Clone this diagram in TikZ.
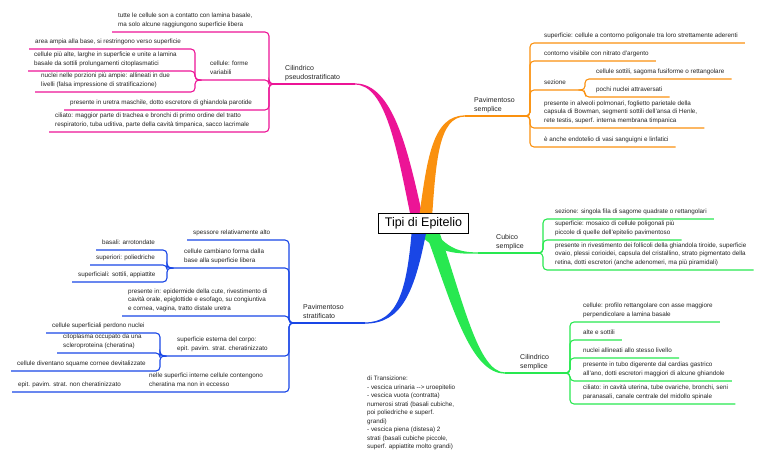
\documentclass[tikz,border=0pt]{standalone}
\usepackage{fontspec}
\setmainfont{Liberation Sans}
\usetikzlibrary{backgrounds}
\definecolor{mpink}{RGB}{236,20,150}
\definecolor{morange}{RGB}{250,145,15}
\definecolor{mgreen}{RGB}{40,232,80}
\definecolor{mblue}{RGB}{25,70,230}
\definecolor{mtext}{RGB}{35,35,35}
\tikzstyle{root} = [draw=black, line width=0.9pt, fill=white, inner xsep=6pt, minimum height=20pt, font=\fontsize{12.5}{14}\selectfont]
\tikzstyle{branch} = [inner sep=0pt, anchor=south west, align=left, text=mtext, font=\fontsize{7}{9}\selectfont, execute at end node=\strut]
\tikzstyle{leaf} = [inner xsep=0pt, inner ysep=3pt, anchor=south west, align=left, text=mtext, font=\fontsize{6.3}{8.5}\selectfont, execute at end node=\strut]
\tikzstyle{link} = [line width=1.1pt, rounded corners=4pt]

\begin{document}
\begin{tikzpicture}[x=1pt, y=-1pt]
\useasboundingbox (0,0) rectangle (768,464);

\node[root] (root) at (423.5,223) {Tipi di Epitelio};

\coordinate (jps) at (272,84);
\coordinate (jpsem) at (527,116);
\coordinate (jcub) at (540,253);
\coordinate (jcil) at (567,373);
\coordinate (jpst) at (292,323);
\coordinate (eps) at (355,84);
\coordinate (epsem) at (465,116);
\coordinate (ecub) at (478,253);
\coordinate (ecil) at (505,373);
\coordinate (epst) at (365,323);

% stems
\begin{scope}[on background layer]
\fill[mpink] (411,218) .. controls (397,150) and (386,84.6) .. (355,84.6) -- (355,83.4) .. controls (393,83.4) and (408,150) .. (423,218) -- cycle;
\fill[morange] (419,218) .. controls (427,160) and (432,115.4) .. (465,115.4) -- (465,116.6) .. controls (439,116.6) and (436,160) .. (432,218) -- cycle;
\fill[mgreen] (429,226) .. controls (446,246) and (455,252.4) .. (478,252.4) -- (478,253.6) .. controls (450,254.5) and (436,250) .. (421,236) -- cycle;
\fill[mgreen] (424,228) .. controls (452,305) and (470,373.6) .. (505,373.6) -- (505,372.4) .. controls (478,372.4) and (463,300) .. (438,228) -- cycle;
\fill[mblue] (427,228) .. controls (415,292) and (402,323.6) .. (365,323.6) -- (365,322.4) .. controls (398,322.4) and (407,290) .. (412,228) -- cycle;
\end{scope}
\draw[link, mpink] (eps) -- (jps);
\draw[link, morange] (epsem) -- (jpsem);
\draw[link, mgreen] (ecub) -- (jcub);
\draw[link, mgreen] (ecil) -- (jcil);
\draw[link, mblue] (epst) -- (jpst);

\node[branch] (ps) at (285,82) {Cilindrico\\pseudostratificato};
\node[branch] (psem) at (474,114) {Pavimentoso\\semplice};
\node[branch] (cub) at (496,251) {Cubico\\semplice};
\node[branch] (cil) at (520,371) {Cilindrico\\semplice};
\node[branch] (pst) at (303,321) {Pavimentoso\\stratificato};

% Cilindrico pseudostratificato
\node[leaf] (p1) at (118,32) {tutte le cellule son a contatto con lamina basale,\\ma solo alcune raggiungono superficie libera};
\node[leaf] (p2) at (210,80) {cellule: forme\\variabili};
\node[leaf] (p2a) at (35,49) {area ampia alla base, si restringono verso superficie};
\node[leaf] (p2b) at (34,71) {cellule più alte, larghe in superficie e unite a lamina\\basale da sottili prolungamenti citoplasmatici};
\node[leaf] (p2c) at (41,92) {nuclei nelle porzioni più ampie: allineati in due\\livelli (falsa impressione di stratificazione)};
\node[leaf] (p3) at (70,110) {presente in uretra maschile, dotto escretore di ghiandola parotide};
\node[leaf] (p4) at (55,132) {ciliato: maggior parte di trachea e bronchi di primo ordine del tratto\\respiratorio, tuba uditiva, parte della cavità timpanica, sacco lacrimale};
\coordinate (jp2) at (198,80);
\begin{scope}[link, mpink]
\draw (jps) -- ++(-3,0) |- ([xshift=-6pt]p1.south west);
\draw (jps) -- ++(-3,0) |- (jp2);
\draw (jps) -- ++(-3,0) |- ([xshift=-6pt]p3.south west);
\draw (jps) -- ++(-3,0) |- ([xshift=-6pt]p4.south west);
\draw (jp2) -- ++(-3,0) |- ([xshift=-6pt]p2a.south west);
\draw (jp2) -- ++(-3,0) |- ([xshift=-6pt]p2b.south west);
\draw (jp2) -- ++(-3,0) |- ([xshift=-6pt]p2c.south west);
\end{scope}

% Pavimentoso semplice
\node[leaf] (o1) at (544,43) {superficie: cellule a contorno poligonale tra loro strettamente aderenti};
\node[leaf] (o2) at (544,61) {contorno visibile con nitrato d'argento};
\node[leaf] (o3) at (544,90) {sezione};
\node[leaf] (o3a) at (596,79) {cellule sottili, sagoma fusiforme o rettangolare};
\node[leaf] (o3b) at (596,97) {pochi nuclei attraversati};
\node[leaf] (o4) at (544,128) {presente in alveoli polmonari, foglietto parietale della\\capsula di Bowman, segmenti sottili dell'ansa di Henle,\\rete testis, superf. interna membrana timpanica};
\node[leaf] (o5) at (544,147) {è anche endotelio di vasi sanguigni e linfatici};
\coordinate (jo3) at (582,90);
\begin{scope}[link, morange]
\draw (jpsem) -- ++(3,0) |- ([xshift=7pt]o1.south east);
\draw (jpsem) -- ++(3,0) |- ([xshift=7pt]o2.south east);
\draw (jpsem) -- ++(3,0) |- (jo3);
\draw (jpsem) -- ++(3,0) |- ([xshift=7pt]o4.south east);
\draw (jpsem) -- ++(3,0) |- ([xshift=7pt]o5.south east);
\draw (jo3) -- ++(3,0) |- ([xshift=7pt]o3a.south east);
\draw (jo3) -- ++(3,0) |- ([xshift=7pt]o3b.south east);
\end{scope}

% Cubico semplice
\node[leaf] (c1) at (555,219) {sezione: singola fila di sagome quadrate o rettangolari};
\node[leaf] (c2) at (555,240) {superficie: mosaico di cellule poligonali più\\piccole di quelle dell'epitelio pavimentoso};
\node[leaf] (c3) at (555,270) {presente in rivestimento dei follicoli della ghiandola tiroide, superficie\\ovaio, plessi corioidei, capsula del cristallino, strato pigmentato della\\retina, dotti escretori (anche adenomeri, ma più piramidali)};
\begin{scope}[link, mgreen]
\draw (jcub) -- ++(3,0) |- ([xshift=7pt]c1.south east);
\draw (jcub) -- ++(3,0) |- ([xshift=7pt]c2.south east);
\draw (jcub) -- ++(3,0) |- ([xshift=7pt]c3.south east);
\end{scope}

% Cilindrico semplice
\node[leaf] (s1) at (583,322) {cellule: profilo rettangolare con asse maggiore\\perpendicolare a lamina basale};
\node[leaf] (s2) at (583,340) {alte e sottili};
\node[leaf] (s3) at (583,358) {nuclei allineati allo stesso livello};
\node[leaf] (s4) at (583,381) {presente in tubo digerente dal cardias gastrico\\all'ano, dotti escretori maggiori di alcune ghiandole};
\node[leaf] (s5) at (583,404) {ciliato: in cavità uterina, tube ovariche, bronchi, seni\\paranasali, canale centrale del midollo spinale};
\begin{scope}[link, mgreen]
\draw (jcil) -- ++(3,0) |- ([xshift=7pt]s1.south east);
\draw (jcil) -- ++(3,0) |- ([xshift=7pt]s2.south east);
\draw (jcil) -- ++(3,0) |- ([xshift=7pt]s3.south east);
\draw (jcil) -- ++(3,0) |- ([xshift=7pt]s4.south east);
\draw (jcil) -- ++(3,0) |- ([xshift=7pt]s5.south east);
\end{scope}

% Pavimentoso stratificato
\node[leaf] (b1) at (193,240) {spessore relativamente alto};
\node[leaf] (b2) at (184,268) {cellule cambiano forma dalla\\base alla superficie libera};
\node[leaf] (b2a) at (102,250) {basali: arrotondate};
\node[leaf] (b2b) at (96,265) {superiori: poliedriche};
\node[leaf] (b2c) at (78,282) {superficiali: sottili, appiattite};
\node[leaf] (b3) at (128,316) {presente in: epidermide della cute, rivestimento di\\cavità orale, epiglottide e esofago, su congiuntiva\\e cornea, vagina, tratto distale uretra};
\node[leaf] (b4) at (177,356) {superficie esterna del corpo:\\epit. pavim. strat. cheratinizzato};
\node[leaf] (b4a) at (52,333) {cellule superficiali perdono nuclei};
\node[leaf] (b4b) at (63,353) {citoplasma occupato da una\\scleroproteina (cheratina)};
\node[leaf] (b4c) at (17,371) {cellule diventano squame cornee devitalizzate};
\node[leaf] (b5) at (149,392) {nelle superfici interne cellule contengono\\cheratina ma non in eccesso};
\node[leaf] (b5a) at (18,392) {epit. pavim. strat. non cheratinizzato};
\coordinate (jb2) at (170,268);
\coordinate (jb4) at (163,356);
\begin{scope}[link, mblue]
\draw (jpst) -- ++(-3,0) |- ([xshift=-6pt]b1.south west);
\draw (jpst) -- ++(-3,0) |- (jb2);
\draw (jpst) -- ++(-3,0) |- ([xshift=-6pt]b3.south west);
\draw (jpst) -- ++(-3,0) |- (jb4);
\draw (jpst) -- ++(-3,0) |- ([xshift=-6pt]b5a.south west);
\draw (jb2) -- ++(-3,0) |- ([xshift=-6pt]b2a.south west);
\draw (jb2) -- ++(-3,0) |- ([xshift=-6pt]b2b.south west);
\draw (jb2) -- ++(-3,0) |- ([xshift=-6pt]b2c.south west);
\draw (jb4) -- ++(-3,0) |- ([xshift=-6pt]b4a.south west);
\draw (jb4) -- ++(-3,0) |- ([xshift=-6pt]b4b.south west);
\draw (jb4) -- ++(-3,0) |- ([xshift=-6pt]b4c.south west);
\end{scope}

\node[leaf, anchor=north west, inner ysep=0pt] (tr) at (367,376) {di Transizione:\\- vescica urinaria -{}-> uroepitelio\\- vescica vuota (contratta)\\numerosi strati (basali cubiche,\\poi poliedriche e superf.\\grandi)\\- vescica piena (distesa) 2\\strati (basali cubiche piccole,\\superf. appiattite molto grandi)};
\end{tikzpicture}
\end{document}
